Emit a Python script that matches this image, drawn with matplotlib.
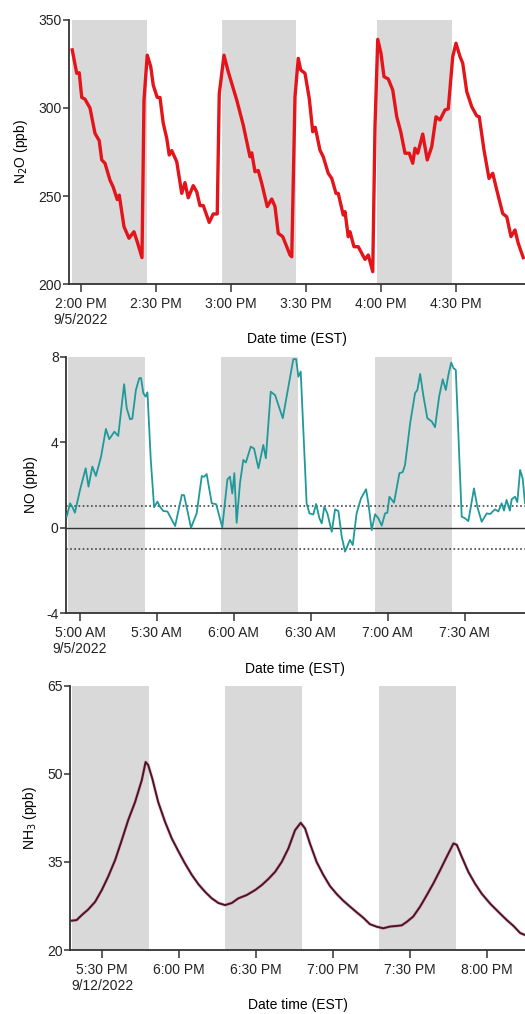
import pandas as pd
import numpy as np
import matplotlib
matplotlib.use('Agg')
import matplotlib.pyplot as plt

plt.rcParams['font.family'] = ['Liberation Sans', 'DejaVu Sans']
plt.rcParams['axes.unicode_minus'] = False

# ---- N2O (minutes after 2:00 PM, 9/5/2022) ----
n2o_start = '2022-09-05 14:00'
n2o_t = [-3.5, -1.7, -0.7, 0.3, 1.6, 3.6, 5.6, 7.3, 8.3, 9.6, 11.6, 12.9, 14.5, 15.3, 17.2, 19.2,
         21.2, 22.5, 24.4, 25.2, 26.5, 27.9, 28.9, 30.5, 31.6, 32.9, 34.3, 35.3, 36.3, 38.3, 40.3,
         41.6, 42.9, 44.9, 46.3, 47.6, 48.9, 51.3, 52.9, 54.5, 55.3, 57.2, 58.9, 62.3, 64.9, 67.6,
         68.3, 69.6, 70.9, 72.3, 74.5, 76.3, 77.6, 78.9, 80.7, 82.3, 83.6, 84.3, 85.6, 86.9, 87.9,
         89.6, 91.3, 92.7, 93.7, 95.6, 96.9, 98.9, 100.3, 102.0, 102.9, 104.9, 105.6, 106.9, 107.6,
         109.2, 110.9, 113.6, 114.9, 116.7, 117.6, 118.7, 120.0, 121.2, 122.9, 124.7, 126.3, 127.9,
         129.6, 131.3, 132.7, 133.6, 134.7, 136.7, 138.5, 140.3, 142.0, 143.6, 145.6, 146.9, 148.7,
         150.0, 151.6, 152.7, 154.3, 156.3, 158.3, 159.3, 161.2, 163.2, 164.7, 166.3, 168.7, 170.3,
         172.0, 173.6, 174.9, 176.9]
n2o_v = [333, 319.7, 320, 306, 305, 300, 285.6, 281.4, 270.5, 268.6, 259, 255, 248, 250.5, 232.6, 226,
         229.7, 224, 215, 304.5, 330, 323.5, 313, 306, 306, 291.3, 282.8, 273.3, 275.8, 269.5, 251.5,
         257.6, 249, 255.9, 252.4, 244.5, 244.6, 235, 239.8, 239.8, 308, 330, 320.6, 304.5, 290.3, 272.3,
         274.5, 263.8, 264.5, 257.2, 244, 248.3, 244, 228.8, 226.9, 221.2, 216.5, 215.5, 306.4, 328.2, 321.6,
         319.7, 305.5, 286.5, 289, 276, 272.3, 262.9, 260, 251.5, 251.5, 239.2, 241.1, 226.9, 229.7,
         221.2, 221.2, 214, 216.5, 207, 289.4, 339, 331, 317.8, 316.5, 310.2, 295, 286.5,
         274.3, 274.3, 268.6, 277.1, 274.3, 285.2, 270.5, 278, 295, 293.2, 298.9, 299.5, 329.2,
         336.8, 329.2, 325.4, 309.3, 300.7, 295.5, 295, 276.1, 260, 262.9, 253.4, 240, 238.2,
         226.9, 230.7, 223.1, 215]
n2o_shade = [(-3.7, 26.3), (56.3, 86.1), (118.3, 148.3)]
n2o_ticks = ['2:00 PM\n9/5/2022', '2:30 PM', '3:00 PM', '3:30 PM', '4:00 PM', '4:30 PM']

# ---- NO (minutes after 5:00 AM, 9/5/2022) ----
no_start = '2022-09-05 05:00'
no_t = [-5.2, -3.9, -2.9, -2.0, 0.0, 2.2, 3.3, 4.8, 6.2, 8.2, 10.1, 11.4, 13.4, 14.9, 17.2, 18.2,
        19.5, 20.4, 21.8, 23.1, 23.8, 24.7, 25.6, 26.3, 27.6, 28.9, 30.2, 31.2, 32.5, 34.1, 37.1,
        39.7, 40.6, 43.3, 45.5, 47.5, 48.4, 49.4, 51.4, 53.1, 55.5, 57.5, 58.5, 59.4, 60.2, 61.1,
        62.4, 63.7, 64.7, 66.6, 67.9, 69.6, 71.5, 72.5, 74.4, 76.1, 79.1, 81.3, 83.2, 84.3, 85.2,
        86.1, 88.4, 89.5, 91.0, 92.1, 93.4, 94.3, 95.3, 96.5, 98.2, 99.5, 100.8, 102.1, 103.4,
        105.3, 106.4, 107.9, 109.6, 111.6, 112.5, 113.8, 115.1, 116.4, 117.7, 119.0, 119.9, 120.7,
        122.5, 124.6, 125.9, 126.8, 128.8, 130.7, 131.6, 132.7, 134.0, 135.5, 137.2, 138.5, 140.1,
        141.5, 142.7, 143.7, 144.8, 145.7, 146.6, 148.9, 150.2, 151.5, 153.7, 155.0, 156.7, 158.7,
        160.0, 161.9, 163.2, 164.5, 165.4, 166.4, 167.7, 168.4, 169.7, 170.6, 171.7, 172.7, 173.6]
no_v = [0.52, 1.14, 0.95, 0.7, 1.77, 2.78, 1.92, 2.86, 2.42, 3.32, 4.62, 4.14, 4.49, 4.29, 6.71, 5.6,
        5.07, 5.1, 6.44, 6.99, 7.0, 6.29, 6.13, 6.33, 3.17, 0.96, 1.22, 0.98, 0.78, 0.76, 0.08,
        1.53, 1.52, 0.0, 0.67, 2.42, 2.38, 2.51, 1.14, 1.1, 0.02, 2.26, 2.39, 1.6, 2.55, 0.23,
        2.08, 3.17, 3.05, 3.79, 3.7, 2.78, 3.87, 3.25, 6.36, 6.2, 5.12, 6.6, 7.88, 7.88, 7.06,
        7.3, 1.14, 0.67, 0.62, 1.11, 0.44, 0.2, 0.98, 0.67, -0.19, 0.86, 0.78, -0.42, -1.12,
        -0.57, -0.81, 0.67, 1.37, 1.8, 1.14, -0.11, 0.63, 0.44, 0.1, 0.67, 0.7, 1.45,
        1.17, 2.55, 2.6, 2.94, 4.89, 6.29, 6.44, 7.19, 6.13, 5.12, 4.97, 4.7, 6.13,
        6.94, 6.44, 7.14, 7.72, 7.46, 7.38, 0.52, 0.44, 0.31, 1.84, 0.98, 0.28, 0.67,
        0.64, 0.86, 0.76, 1.14, 0.8, 1.3, 0.8, 1.33, 1.45, 1.2, 2.7, 2.3, 1.14]
no_shade = [(-4.8, 25.4), (54.9, 84.9), (115.1, 145.1)]
no_ticks = ['5:00 AM\n9/5/2022', '5:30 AM', '6:00 AM', '6:30 AM', '7:00 AM', '7:30 AM']

# ---- NH3 (minutes after 5:30 PM, 9/12/2022) ----
nh3_start = '2022-09-12 17:30'
nh3_t = [-11.9, -10.0, -8.0, -5.5, -2.8, -0.2, 2.3, 5.0, 7.6, 10.1, 12.8, 15.4, 16.9, 17.9, 19.5,
         21.8, 24.5, 27.1, 29.7, 32.3, 34.9, 37.5, 40.1, 42.7, 45.3, 47.9, 50.5, 53.1, 56.3, 59.6,
         62.2, 64.8, 67.4, 70.0, 72.6, 75.2, 77.4, 79.1, 81.0, 83.6, 86.2, 88.8, 91.5, 94.0, 96.6,
         99.3, 101.8, 104.4, 107.1, 109.6, 112.3, 114.9, 116.8, 118.8, 121.3, 124.0, 126.6, 129.1,
         131.8, 134.4, 137.0, 138.3, 140.2, 142.8, 145.4, 148.0, 151.3, 154.5, 157.8, 160.4, 163.0, 164.9]
nh3_v = [25.0, 25.1, 25.95, 26.9, 28.2, 30.2, 32.5, 35.3, 38.7, 42.1, 45.2, 48.9, 52.0, 51.5, 49.2,
         45.2, 41.8, 39.0, 36.8, 34.7, 32.8, 31.2, 29.9, 28.8, 28.0, 27.65, 28.0, 28.8, 29.35, 30.2,
         31.05, 32.1, 33.3, 35.0, 37.3, 40.4, 41.65, 40.7, 38.15, 35.0, 32.8, 30.9, 29.5, 28.4, 27.4,
         26.4, 25.5, 24.4, 23.96, 23.7, 24.0, 24.1, 24.2, 24.8, 25.7, 27.4, 29.35, 31.3,
         33.6, 35.9, 38.15, 37.9, 35.9, 33.3, 31.3, 29.6, 27.9, 26.5, 25.1, 24.1, 22.9, 22.55]
nh3_shade = [(-11.7, 18.1), (48.0, 78.0), (108.0, 138.0)]
nh3_ticks = ['5:30 PM\n9/12/2022', '6:00 PM', '6:30 PM', '7:00 PM', '7:30 PM', '8:00 PM']


def ts(start, mins):
    return pd.Timestamp(start) + pd.to_timedelta(np.asarray(mins, dtype=float), unit='min')


fig = plt.figure(figsize=(5.25, 10.14), dpi=100)
ax1 = fig.add_axes([0.1314, 0.7199, 0.8686, 0.2604])
ax2 = fig.add_axes([0.1251, 0.3952, 0.8749, 0.2531])
ax3 = fig.add_axes([0.1333, 0.0631, 0.8667, 0.2607])

panels = [
    (ax1, n2o_start, n2o_t, n2o_v, n2o_shade, n2o_ticks, (-4.8, 177.6), (200, 350), [200, 250, 300, 350],
     'N$_2$O (ppb)', '#e4141b', 2.4),
    (ax2, no_start, no_t, no_v, no_shade, no_ticks, (-5.6, 173.6), (-4, 8), [-4, 0, 4, 8],
     'NO (ppb)', '#20999a', 1.3),
    (ax3, nh3_start, nh3_t, nh3_v, nh3_shade, nh3_ticks, (-12.6, 164.9), (20, 65), [20, 35, 50, 65],
     'NH$_3$ (ppb)', '#4a1426', 1.4),
]

for ax, start, t, v, shade, ticks, xlim, ylim, yt, ylab, col, lw in panels:
    for a, b in shade:
        ax.axvspan(ts(start, a), ts(start, b), color='#d9d9d9', lw=0, zorder=0)
    if ax is ax3:
        ax.plot(ts(start, t), v, color='#d46a8a', lw=lw + 0.9, alpha=0.45, zorder=2)
    ax.plot(ts(start, t), v, color=col, lw=lw, zorder=3)
    ax.set_xlim(ts(start, xlim[0]), ts(start, xlim[1]))
    ax.set_ylim(*ylim)
    ax.set_yticks(yt)
    ax.set_xticks(ts(start, [0, 30, 60, 90, 120, 150]))
    ax.set_xticklabels(ticks)
    ax.set_ylabel(ylab, fontsize=10, labelpad=6)
    ax.set_xlabel('Date time (EST)', fontsize=10, labelpad=4)
    for s in ['top', 'right']:
        ax.spines[s].set_visible(False)
    for s in ['left', 'bottom']:
        ax.spines[s].set_color('#333333')
        ax.spines[s].set_linewidth(1.3)
    ax.tick_params(axis='both', colors='#333333', labelcolor='#222222', labelsize=10, width=1.1)
    ax.tick_params(axis='y', length=4, pad=1)
    ax.tick_params(axis='x', length=6, pad=3)

ax2.axhline(0, color='#333333', lw=1.0, zorder=1)
ax2.axhline(1, color='#444444', lw=1.2, ls=(0, (1, 1.5)), zorder=1)
ax2.axhline(-1, color='#444444', lw=1.2, ls=(0, (1, 1.5)), zorder=1)

fig.savefig('out.png', dpi=100)
